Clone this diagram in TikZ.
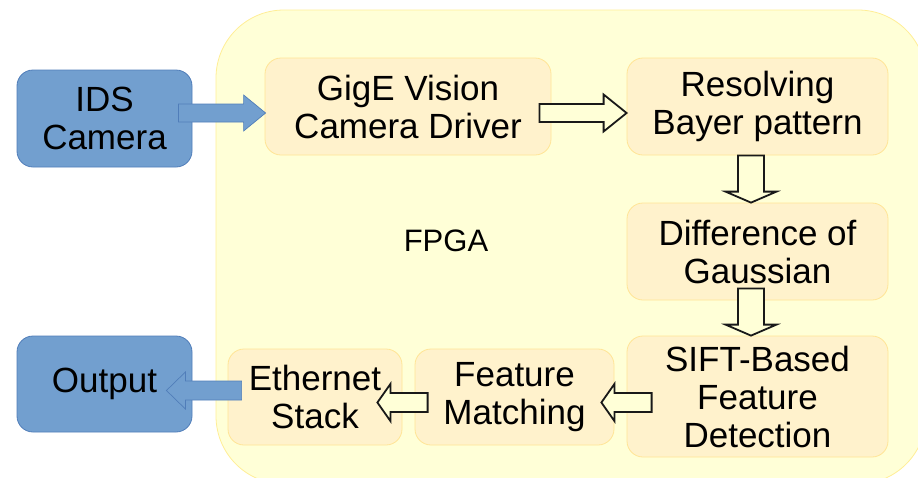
\documentclass[tikz,border=0pt]{standalone}
\usepackage{fontspec}
\setmainfont{Liberation Sans}
\usetikzlibrary{calc}
\definecolor{fpgafill}{RGB}{255,255,215}
\definecolor{fpgaline}{RGB}{255,238,150}
\definecolor{stagefill}{RGB}{255,242,204}
\definecolor{stageline}{RGB}{255,229,150}
\definecolor{iofill}{RGB}{114,159,207}
\definecolor{ioline}{RGB}{80,125,185}
\newcommand\blockarrow[6]{%
  \path ($(#3)!#6!(#2)$) coordinate (bah);
  \draw[#1] ($(#2)!#4!90:(#3)$) -- ($(bah)!#4!90:(#3)$) -- ($(bah)!#5!90:(#3)$)
    -- (#3) -- ($(bah)!#5!-90:(#3)$) -- ($(bah)!#4!-90:(#3)$)
    -- ($(#2)!#4!-90:(#3)$) -- cycle;}
\tikzset{
  stage/.style={draw=stageline, fill=stagefill, line width=0.8pt, rounded corners=16pt,
    align=center, font=\fontsize{35}{38}\selectfont, inner sep=0pt},
  iobox/.style={draw=ioline, fill=iofill, line width=0.8pt, rounded corners=16pt,
    align=center, font=\fontsize{35}{38}\selectfont, inner sep=0pt},
  flowarrow/.style={draw=black!90, fill=fpgafill, line width=1.8pt, line join=miter},
  bluearrow/.style={draw=ioline, fill=iofill, line width=0.7pt, line join=miter},
}
\begin{document}
\begin{tikzpicture}[x=1pt,y=-1pt]
\useasboundingbox (0,0) rectangle (918,477);
\clip (0,0) rectangle (918,477);
\draw[fill=fpgafill, draw=fpgaline, line width=0.8pt, rounded corners=68pt] (216,10) rectangle (926,484);
\node[font=\fontsize{31}{36}\selectfont] (fpga) at (446,241) {FPGA};

\node[iobox, minimum width=175pt, minimum height=97pt] (cam) at (104.5,118.5) {IDS\\Camera};
\node[iobox, minimum width=175pt, minimum height=96pt] (out) at (104.5,384) {Output};

\node[stage, minimum width=286pt, minimum height=97pt] (gige) at (408,106.5) {GigE Vision\\Camera Driver};
\node[stage, minimum width=261pt, minimum height=97pt] (res) at (757.5,106.5) {Resolving\\Bayer pattern};
\node[stage, minimum width=261pt, minimum height=97pt] (dog) at (757.5,251.5) {Difference of\\Gaussian};
\node[stage, minimum width=261pt, minimum height=121pt] (sift) at (757.5,396.5) {SIFT-Based\\Feature\\Detection};
\node[stage, minimum width=199pt, minimum height=96pt] (fm) at (514.5,397) {Feature\\Matching};
\node[stage, minimum width=174pt, minimum height=96pt] (eth) at (315,397) {Ethernet\\Stack};

\coordinate (a1s) at ($(cam.east)+(-14,-5.5)$);
\coordinate (a1e) at ($(gige.west)+(1,6.5)$);
\coordinate (a2s) at ($(gige.east)+(-12,6.5)$);
\coordinate (a2e) at ($(res.west)+(0,6.5)$);
\coordinate (a3s) at ($(res.south)+(-6.5,0)$);
\coordinate (a3e) at ($(dog.north)+(-6.5,0)$);
\coordinate (a4s) at ($(dog.south)+(-6.5,-12)$);
\coordinate (a4e) at ($(sift.north)+(-6.5,0)$);
\coordinate (a5s) at ($(sift.west)+(25,6)$);
\coordinate (a5e) at ($(fm.east)+(-13,5.5)$);
\coordinate (a6s) at ($(fm.west)+(13,5.5)$);
\coordinate (a6e) at ($(eth.east)+(-25,5.5)$);
\coordinate (a7s) at ($(eth.west)+(14,-6.5)$);
\coordinate (a7e) at ($(out.east)+(-26,6.5)$);

\blockarrow{bluearrow}{a1s}{a1e}{9pt}{18pt}{22pt}
\blockarrow{flowarrow}{a2s}{a2e}{9pt}{18.5pt}{23pt}
\blockarrow{flowarrow}{a3s}{a3e}{13pt}{25.5pt}{11pt}
\blockarrow{flowarrow}{a4s}{a4e}{13pt}{25.5pt}{11pt}
\blockarrow{flowarrow}{a5s}{a5e}{9.5pt}{18.5pt}{13pt}
\blockarrow{flowarrow}{a6s}{a6e}{9.5pt}{18.5pt}{13pt}
\blockarrow{bluearrow}{a7s}{a7e}{9.5pt}{18.5pt}{19pt}
\end{tikzpicture}
\end{document}
